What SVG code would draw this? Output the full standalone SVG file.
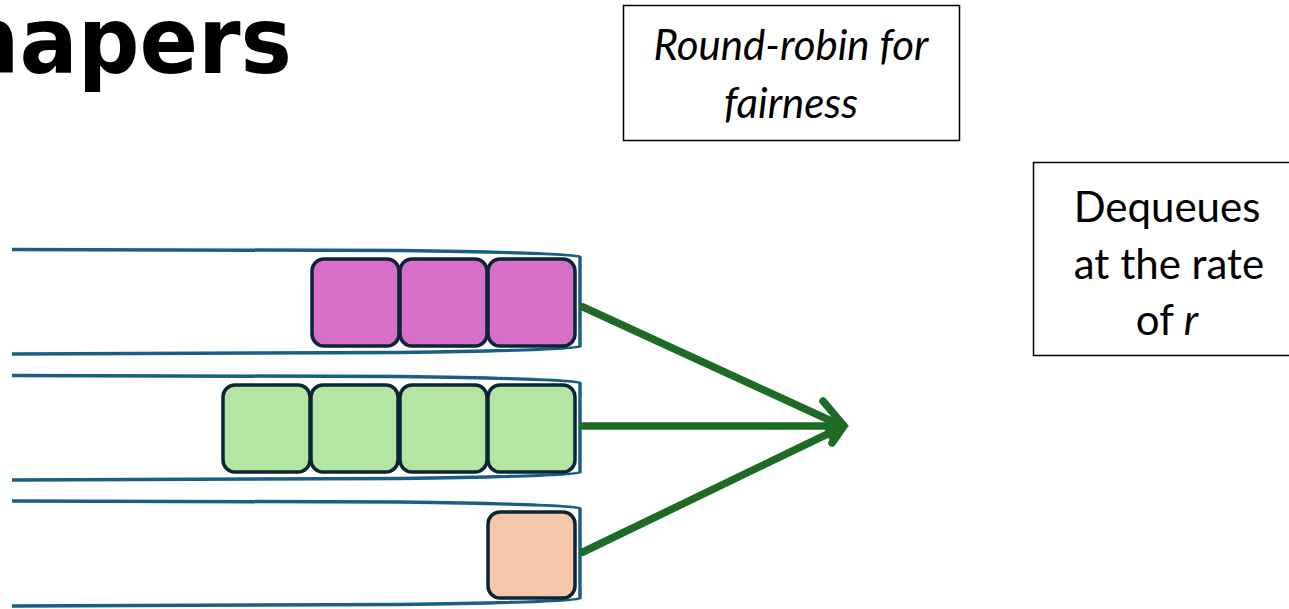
<svg xmlns="http://www.w3.org/2000/svg" width="1289" height="609" viewBox="0 0 1289 609">
  <style>
    .queue { fill: none; stroke: #1b5e84; stroke-width: 3.5; stroke-linejoin: round; }
    .pkt { stroke: #0b2536; stroke-width: 3.5; }
    .flow { fill: #d76fc8; }
    .flow2 { fill: #b4e5a2; }
    .flow3 { fill: #f5c8ac; }
    .note { fill: #ffffff; stroke: #000000; stroke-width: 1.5; }
    .label { font-family: Lato, "Open Sans", sans-serif; font-size: 42px; fill: #000000; }
    .title { font-family: "DejaVu Sans", sans-serif; font-weight: bold; font-size: 92px; fill: #000000; }
    .edge { stroke: #1d6b24; stroke-width: 7.5; stroke-linecap: round; fill: none; }
  </style>

  <!-- slide title, running off the left edge -->
  <text class="title" x="-42" y="73" textLength="334" lengthAdjust="spacingAndGlyphs">hapers</text>

  <!-- scheduler note -->
  <g id="roundrobin">
    <rect class="note" x="623.5" y="5.5" width="336" height="135"/>
    <text class="label" x="791" y="60" text-anchor="middle" font-style="italic">Round-robin for</text>
    <text class="label" x="791" y="118" text-anchor="middle" font-style="italic">fairness</text>
  </g>

  <!-- output rate note -->
  <g id="rate">
    <rect class="note" x="1033.5" y="162.5" width="270" height="193"/>
    <text class="label" x="1167" y="222" text-anchor="middle" font-size="43">Dequeues</text>
    <text class="label" x="1169" y="279" text-anchor="middle" font-size="43">at the rate</text>
    <text class="label" x="1167" y="335" text-anchor="middle" font-size="43">of <tspan font-style="italic">r</tspan></text>
  </g>

  <!-- queue 1 -->
  <g id="queue1">
    <path class="queue" d="M12,249.5 L400,250.5 Q578,253 580,257 L580,346 Q578,350 400,352.5 L12,354"/>
    <rect class="pkt flow" x="312" y="259" width="87" height="87" rx="12"/>
    <rect class="pkt flow" x="400" y="259" width="87" height="87" rx="12"/>
    <rect class="pkt flow" x="488" y="259" width="87" height="87" rx="12"/>
  </g>

  <!-- queue 2 -->
  <g id="queue2">
    <path class="queue" d="M12,375.5 L400,376.5 Q578,379 580,383 L580,472 Q578,476 400,478.5 L12,480"/>
    <rect class="pkt flow2" x="223" y="385" width="87" height="87" rx="12"/>
    <rect class="pkt flow2" x="311" y="385" width="87" height="87" rx="12"/>
    <rect class="pkt flow2" x="400" y="385" width="87" height="87" rx="12"/>
    <rect class="pkt flow2" x="488" y="385" width="87" height="87" rx="12"/>
  </g>

  <!-- queue 3 -->
  <g id="queue3">
    <path class="queue" d="M12,501 L400,502 Q578,504.5 580,508.5 L580,598 Q578,602 400,604.5 L12,606"/>
    <rect class="pkt flow3" x="488" y="512" width="87" height="86" rx="12"/>
  </g>

  <!-- round-robin connectors -->
  <g id="connectors">
    <line class="edge" x1="583" y1="307" x2="840" y2="425"/>
    <line class="edge" x1="583" y1="426" x2="838" y2="426"/>
    <line class="edge" x1="583" y1="552" x2="840" y2="428"/>
    <polyline class="edge" points="823,401 844,426 832,443" stroke-width="8"/>
    <polygon points="846,426 832,445 824,428" fill="#1d6b24"/>
  </g>
</svg>
